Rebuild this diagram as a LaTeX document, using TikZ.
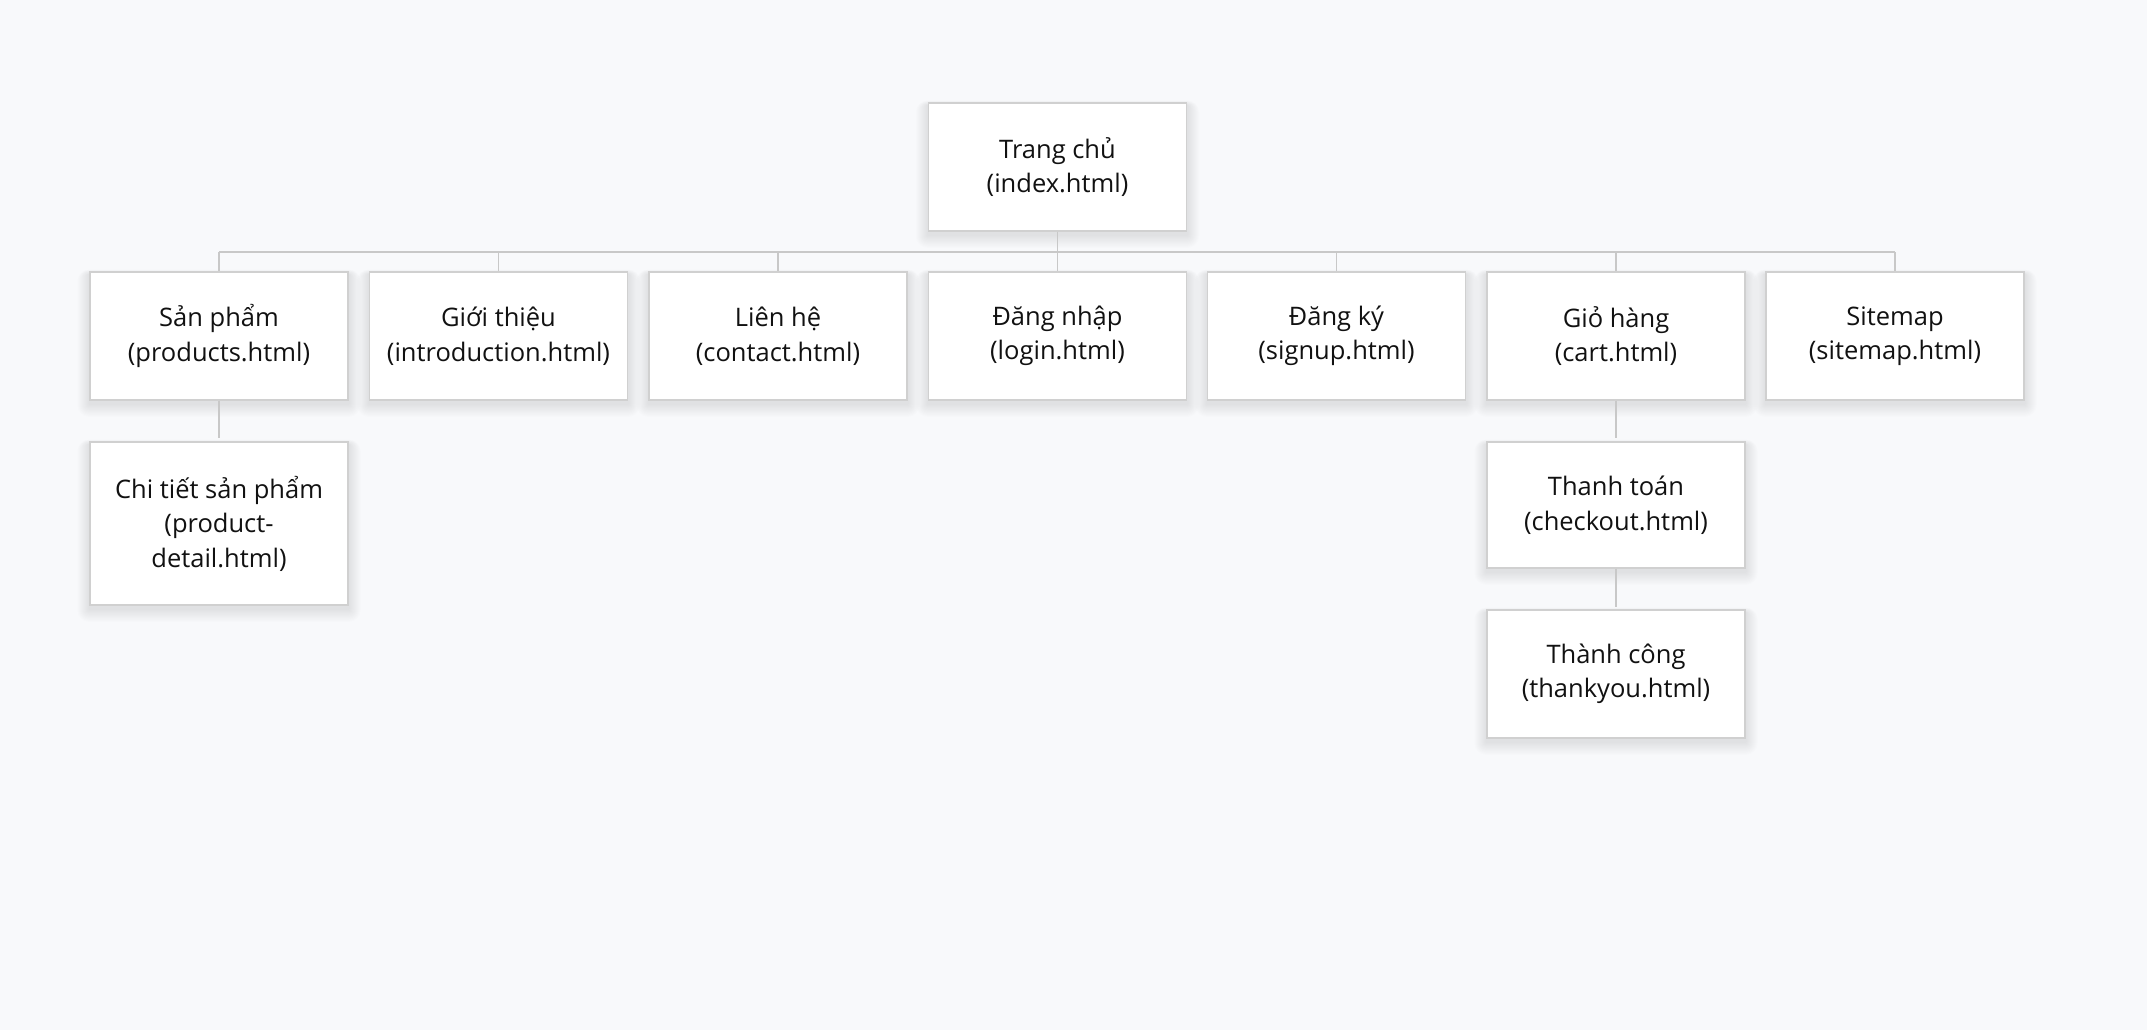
\documentclass[tikz,border=0pt]{standalone}
\usepackage{fontspec}
\setmainfont{Open Sans}
\definecolor{bg}{HTML}{F8F9FB}
\definecolor{boxline}{HTML}{D0D0D0}
\definecolor{conn}{HTML}{C8C8C8}
\definecolor{txt}{HTML}{111111}
\pgfdeclarelayer{background}
\pgfsetlayers{background,main}
\tikzset{
  pagebox/.style={draw=boxline, line width=1.5pt, fill=white, minimum width=258pt,
    minimum height=128pt, inner sep=0pt, align=center, text=txt,
    font=\fontsize{25.5}{34.5}\selectfont},
  connline/.style={draw=conn, line width=1.5pt},
  shadowlayer/.style={fill=black, opacity=0.008}
}
\newcommand\softshadow[1]{%
  \foreach \i in {1,...,12}{%
    \fill[shadowlayer, rounded corners=\i pt]
      ([xshift=-\i*1.0pt, yshift=-3pt+\i*0.4pt]#1.north west)
      rectangle ([xshift=\i*1.0pt, yshift=-3pt-\i*1.1pt]#1.south east);
  }%
}
\begin{document}
\begin{tikzpicture}[x=1pt,y=-1pt]
\useasboundingbox (0,0) rectangle (2147,1030);
\coordinate (busl) at (219,252);
\coordinate (busr) at (1895,252);
\coordinate (busm) at (1057.5,252);
\node[pagebox] (root) at (1057.5,167) {Trang chủ\\(index.html)};
\node[pagebox] (prod) at (219,336) {Sản phẩm\\(products.html)};
\node[pagebox] (intro) at (498.5,336) {Giới thiệu\\(introduction.html)};
\node[pagebox] (contact) at (778,336) {Liên hệ\\(contact.html)};
\node[pagebox] (login) at (1057.5,336) {Đăng nhập\\(login.html)};
\node[pagebox] (signup) at (1336.5,336) {Đăng ký\\(signup.html)};
\node[pagebox] (cart) at (1616,336) {Giỏ hàng\\(cart.html)};
\node[pagebox] (sitemap) at (1895,336) {Sitemap\\(sitemap.html)};
\node[pagebox, minimum height=163pt] (detail) at (219,523.5) {Chi tiết sản phẩm\\(product-\\detail.html)};
\node[pagebox, minimum height=126pt] (checkout) at (1616,505) {Thanh toán\\(checkout.html)};
\node[pagebox] (thanks) at (1616,674) {Thành công\\(thankyou.html)};
\begin{pgfonlayer}{background}
\fill[bg] (0,0) rectangle (2147,1030);
\foreach \n in {root,prod,intro,contact,login,signup,cart,sitemap,detail,checkout,thanks}{
  \softshadow{\n}
}
\end{pgfonlayer}
\draw[connline] (root.south) -- (busm);
\draw[connline] (busl) -- (busr);
\foreach \n in {prod,intro,contact,login,signup,cart,sitemap}{
  \draw[connline] (\n.north |- busm) -- (\n.north);
}
\draw[connline, shorten >=3pt] (prod.south) -- (detail.north);
\draw[connline, shorten >=3pt] (cart.south) -- (checkout.north);
\draw[connline, shorten >=2pt] (checkout.south) -- (thanks.north);
\end{tikzpicture}
\end{document}
